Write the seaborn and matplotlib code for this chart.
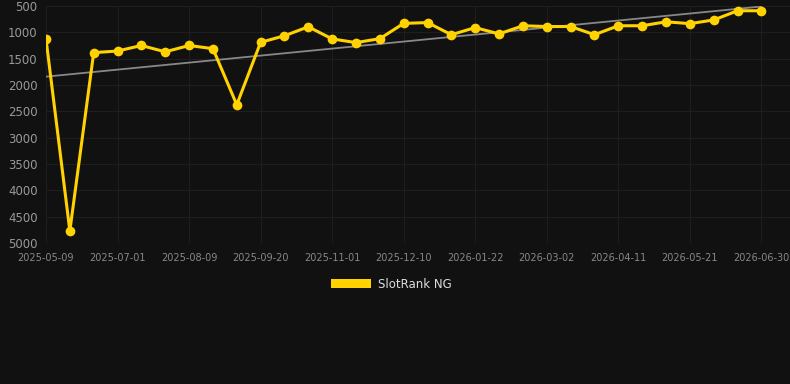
import numpy as np
import pandas as pd
import matplotlib
matplotlib.use("Agg")
import matplotlib.pyplot as plt
from matplotlib.patches import Patch
import seaborn as sns

# rank per snapshot (lower = better)
dates = ["2025-05-09", "2025-05-23", "2025-06-06", "2025-07-01", "2025-07-14", "2025-07-27",
         "2025-08-09", "2025-08-23", "2025-09-06", "2025-09-20", "2025-10-04", "2025-10-18",
         "2025-11-01", "2025-11-14", "2025-11-27", "2025-12-10", "2025-12-24", "2026-01-07",
         "2026-01-22", "2026-02-04", "2026-02-17", "2026-03-02", "2026-03-15", "2026-03-28",
         "2026-04-11", "2026-04-24", "2026-05-07", "2026-05-21", "2026-06-03", "2026-06-16",
         "2026-06-30"]
ranks = [1125, 4770, 1385, 1355, 1250, 1370, 1250, 1310, 2375, 1190, 1065,
         895, 1125, 1195, 1120, 830, 815, 1045, 910, 1030, 875,
         890, 890, 1045, 875, 875, 800, 835, 765, 590, 590]
tick_every = 3

df = pd.DataFrame({"idx": np.arange(len(ranks)), "date": dates, "rank": ranks})

sns.set_style("dark")
bg = "#111111"
plt.rcParams["font.family"] = ["DejaVu Sans"]

fig = plt.figure(figsize=(7.9, 3.84), dpi=100, facecolor=bg)
ax = fig.add_axes([46 / 790, 1 - 243 / 384, 744 / 790, 237 / 384])
ax.set_facecolor(bg)

# trend line
k, b = np.polyfit(df["idx"], df["rank"], 1)
ax.plot(df["idx"], k * df["idx"] + b, color="#888888", lw=1.3, zorder=2)

sns.lineplot(data=df, x="idx", y="rank", ax=ax, color="#FFD200", lw=2.2,
             marker="o", markersize=7, markeredgewidth=0, zorder=3)

ax.set_ylim(5000, 500)
ax.set_xlim(0, 31.2)
ax.set_yticks(range(500, 5001, 500))
xt = df["idx"][::tick_every]
ax.set_xticks(xt)
ax.set_xticklabels(df["date"][::tick_every])
ax.grid(True, color="#1e1e1e", lw=0.8)
ax.set_axisbelow(True)
for s in ax.spines.values():
    s.set_visible(False)
ax.tick_params(axis="y", colors="#999999", labelsize=8.5, length=0, pad=6)
ax.tick_params(axis="x", colors="#888888", labelsize=7, length=0, pad=7)
ax.set_xlabel("")
ax.set_ylabel("")

leg = fig.legend(handles=[Patch(facecolor="#FFD200", edgecolor="none", label="SlotRank NG")],
                 loc="center", bbox_to_anchor=(391 / 790, 1 - 284 / 384), frameon=False,
                 fontsize=8.5, handlelength=3.4, handleheight=0.9, handletextpad=0.6)
for t in leg.get_texts():
    t.set_color("#dddddd")

fig.savefig("out.png", dpi=100, facecolor=bg)
